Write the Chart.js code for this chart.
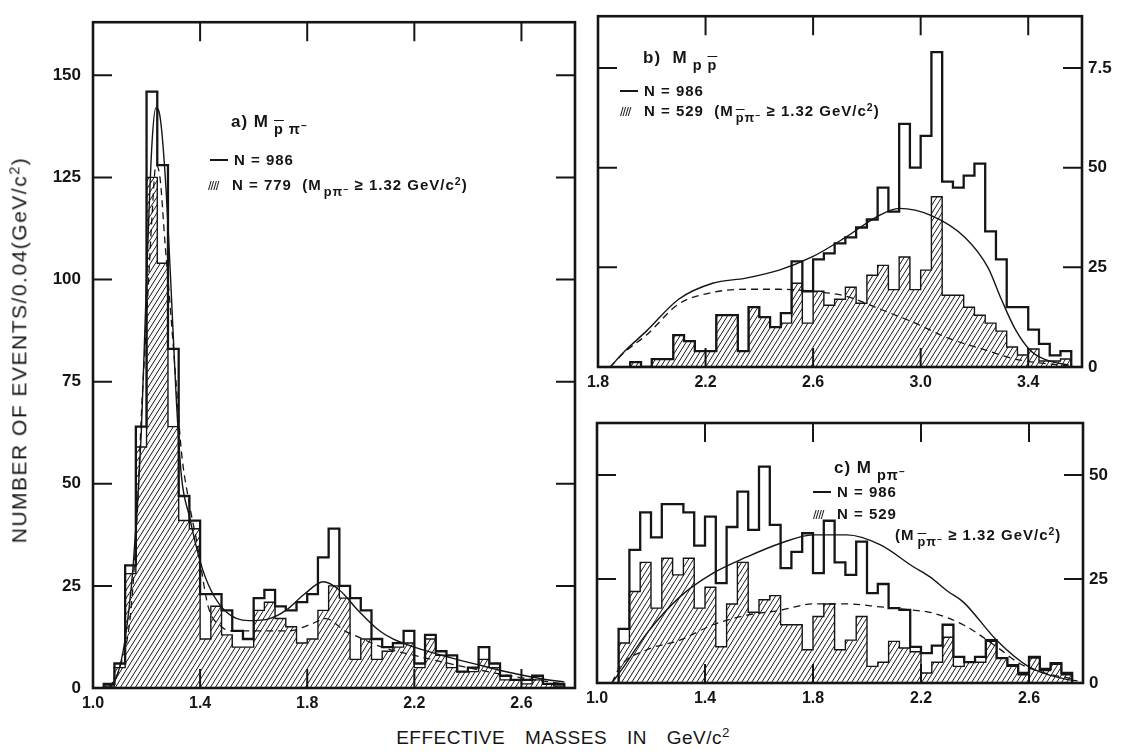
<!DOCTYPE html>
<html>
<head>
<meta charset="utf-8">
<script src="https://cdn.jsdelivr.net/npm/chart.js@4.4.1/dist/chart.umd.min.js"></script>
<style>
  body { margin: 0; background: #fff; width: 1124px; height: 756px; position: relative; overflow: hidden;
         font-family: "Liberation Sans", "DejaVu Sans", sans-serif; color: #151515; }
  canvas { position: absolute; }
  .lg { position: absolute; white-space: nowrap; font-weight: bold; font-size: 15px; letter-spacing: 1px; line-height: 1; }
  .ttl { font-size: 17px; }
  .ov { text-decoration: overline; }
  sub { font-size: 85%; vertical-align: -0.45em; margin-left: 5px; }
  sup { font-size: 70%; vertical-align: 0.5em; }
  .ln { display: inline-block; width: 18px; border-top: 2px solid #151515; vertical-align: 0.3em; margin-right: 6px; }
  .ht { display: inline-block; width: 18px; margin-right: 6px; font-weight: normal; font-size: 13px; letter-spacing: -1px; }
  .axt { position: absolute; white-space: nowrap; }
</style>
</head>
<body>
<canvas id="ca" width="590" height="720" style="left:0;top:0"></canvas>
<canvas id="cb" width="564" height="400" style="left:560px;top:0"></canvas>
<canvas id="cc" width="564" height="315" style="left:560px;top:405px"></canvas>

<div class="lg ttl" style="left:231px;top:113px">a) M<sub><span class="ov">p</span> π<sup>–</sup></sub></div>
<div class="lg" style="left:210px;top:152px"><span class="ln"></span>N = 986</div>
<div class="lg" style="left:208px;top:176px"><span class="ht">////</span>N = 779 &nbsp;(M<sub style="margin-left:2px">pπ<sup>–</sup></sub> ≥ 1.32 GeV/c<sup>2</sup>)</div>

<div class="lg ttl" style="left:643px;top:49px">b) &nbsp;M<sub>p <span class="ov">p</span></sub></div>
<div class="lg" style="left:620px;top:83px"><span class="ln"></span>N = 986</div>
<div class="lg" style="left:620px;top:102px"><span class="ht">////</span>N = 529 &nbsp;(M<sub style="margin-left:2px"><span class="ov">p</span>π<sup>–</sup></sub> ≥ 1.32 GeV/c<sup>2</sup>)</div>

<div class="lg ttl" style="left:834px;top:459px">c) M<sub>pπ<sup>–</sup></sub></div>
<div class="lg" style="left:813px;top:484px"><span class="ln"></span>N = 986</div>
<div class="lg" style="left:813px;top:506px"><span class="ht">////</span>N = 529</div>
<div class="lg" style="left:895px;top:526px">(M<sub style="margin-left:3px"><span class="ov">p</span>π<sup>–</sup></sub> ≥ 1.32 GeV/c<sup>2</sup>)</div>

<div class="axt" style="left:19px;top:350px;font-size:21px;letter-spacing:1.5px;transform:translate(-50%,-50%) rotate(-90deg)">NUMBER OF EVENTS/0.04(GeV/c<sup>2</sup>)</div>
<div class="axt" style="left:563px;top:737px;font-size:19px;word-spacing:14px;letter-spacing:0.5px;transform:translate(-50%,-50%)">EFFECTIVE MASSES IN GeV/c<sup>2</sup></div>

<script>
const INK = '#151515';
const BIN = 0.04;

// a) M(p̄ π-)  — bin contents, first bin starts at aStart
const aStart = 1.04;
const aAll = [1, 6, 30, 64, 146, 128, 83, 47, 41, 23, 23, 19, 14, 12, 22, 24, 20, 19, 21, 23, 32, 39, 25, 22, 19, 12,
  10, 11, 14, 6, 13, 9, 8, 4, 5, 10, 6, 3, 2, 2, 3, 1, 1];
const aCut = [0.5, 5, 28, 59, 125, 104, 64, 41, 39, 12, 20, 13, 10, 10, 19, 21, 17, 15, 11, 12, 19, 25, 22, 7, 12, 7,
  9, 10, 11, 5, 12, 8, 5, 4, 4, 7, 5, 2, 2, 1, 2, 1, 0.5];
const aSolidX = [1.06, 1.09, 1.12, 1.15, 1.18, 1.20, 1.22, 1.235, 1.25, 1.27, 1.29, 1.31, 1.33, 1.36, 1.40, 1.44, 1.50,
  1.58, 1.66, 1.72, 1.79, 1.86, 1.92, 1.99, 2.07, 2.12, 2.20, 2.33, 2.45, 2.57, 2.68, 2.76];
const aSolidY = [0, 3, 12, 30, 62, 100, 133, 142, 140, 125, 100, 72, 52, 42, 31, 24, 18.5,
  16.5, 17, 19, 23, 26, 24, 19, 14, 12, 10, 7.5, 5.5, 3.6, 2.2, 1.5];
const aDashX = [1.06, 1.10, 1.14, 1.165, 1.18, 1.20, 1.22, 1.235, 1.25, 1.27, 1.29, 1.31, 1.33, 1.36, 1.39, 1.43, 1.48,
  1.52, 1.62, 1.73, 1.81, 1.87, 1.94, 1.99, 2.08, 2.20, 2.40, 2.60, 2.76];
const aDashY = [0, 5, 18, 42, 66, 90, 115, 128, 125, 108, 92, 75, 58, 45, 35, 20, 15,
  14, 14, 14, 15.5, 17, 14, 12.5, 10, 8, 5, 2.5, 1];
const aXTicks = [1.0, 1.4, 1.8, 2.2, 2.6];
const aYTicks = [0, 25, 50, 75, 100, 125, 150];

// b) M(p p̄)
const bStart = 1.92;
const bAll = [1.2, 0, 2, 2, 8, 6.5, 4, 4, 13, 13, 4, 15, 12.5, 10, 13.5, 26.5, 19, 27, 28.5, 31,
  32.5, 35, 37, 45, 39, 61, 50, 58, 79, 46.5, 45, 48, 51, 34, 27, 15, 15, 9.4, 5.8, 2.9, 4];
const bCut = [1.2, 0, 2, 2, 8, 6.5, 4, 4, 13, 13, 4, 15, 12.5, 10, 11, 21, 11, 19, 15.5, 17,
  20, 16, 23, 25.5, 19.4, 27.6, 19.4, 24.3, 42.7, 18, 18, 15, 13, 11, 9, 5, 3, 4.5, 1.5, 1.5, 2];
const bSolidX = [1.845, 1.90, 1.98, 2.10, 2.226, 2.35, 2.474, 2.596, 2.72, 2.845, 2.92, 3.04, 3.165, 3.25, 3.30,
  3.35, 3.41, 3.47, 3.55];
const bSolidY = [0, 4, 9, 17, 21, 22.3, 24.3, 27.6, 32.5, 38, 39.8, 38, 32.5, 25, 17, 9.7, 4, 1.7, 0.5];
const bDashX = [1.845, 1.90, 1.98, 2.10, 2.226, 2.35, 2.474, 2.596, 2.72, 2.857, 2.98, 3.10, 3.225, 3.35, 3.47, 3.55];
const bDashY = [0, 3.8, 8, 15.8, 18.7, 19.5, 19.5, 19, 17.8, 14.3, 11, 7.3, 4.6, 2, 0.8, 0.3];
const bXTicks = [1.8, 2.2, 2.6, 3.0, 3.4];
const bYTicks = [0, 25, 50, 75];
const bYLabels = ['0', '25', '50', '7.5'];

// c) M(p π-)
const cStart = 1.08;
const cAll = [13, 32, 41, 35, 43, 43, 41, 33, 40, 24, 37.5, 46, 36.8, 52, 38, 27.6, 31.5, 36, 26.4, 39,
  29, 26, 34, 21.6, 23.8, 18, 17.6, 8.7, 7.2, 9, 14, 6.3, 5, 6.3, 10.3, 6, 4.3, 2.4, 6.3, 3.4, 4.8, 2.4];
const cCut = [9.6, 22, 29, 18, 30, 26, 30, 18, 23, 8.7, 19, 29, 17, 20, 21, 14, 14, 8, 16, 19,
  8, 10.3, 16, 4, 5, 10, 8.4, 7.5, 2.4, 5, 11, 4, 5, 5, 10, 6, 4, 2, 6, 3, 4.5, 2];
const cSolidX = [1.055, 1.10, 1.185, 1.307, 1.43, 1.555, 1.68, 1.80, 1.925, 2.05, 2.17, 2.233, 2.30, 2.356, 2.48,
  2.60, 2.73, 2.78];
const cSolidY = [0, 4, 12, 20.7, 26.4, 30.3, 33.6, 35.6, 35.6, 33.2, 28, 25.5, 22, 19.5, 10.3, 3.9, 1, 0.5];
const cDashX = [1.055, 1.085, 1.185, 1.307, 1.43, 1.555, 1.68, 1.80, 1.925, 2.05, 2.17, 2.233, 2.356, 2.48, 2.57,
  2.66, 2.76];
const cDashY = [0, 3.9, 8, 10.3, 14, 16.3, 17.5, 19, 19, 18.3, 17.5, 17, 14, 8.7, 4.5, 2.4, 1];
const cXTicks = [1.0, 1.4, 1.8, 2.2, 2.6];
const cYTicks = [0, 25, 50];

// diagonal hatch used for the cut sample
function makeHatch() {
  const c = document.createElement('canvas');
  c.width = 5; c.height = 8;
  const g = c.getContext('2d');
  g.strokeStyle = '#1a1a1a';
  g.lineWidth = 1;
  g.beginPath();
  g.moveTo(0, 8); g.lineTo(5, 0);
  g.moveTo(-5, 8); g.lineTo(0, 0);
  g.moveTo(5, 8); g.lineTo(10, 0);
  g.stroke();
  return g.createPattern(c, 'repeat');
}
const hatch = makeHatch();

function steps(start, counts) {
  const pts = [{ x: start, y: 0 }];
  counts.forEach((v, i) => pts.push({ x: +(start + i * BIN).toFixed(2), y: v }));
  pts.push({ x: +(start + counts.length * BIN).toFixed(2), y: 0 });
  return pts;
}
const curve = (xs, ys) => xs.map((x, i) => ({ x, y: ys[i] }));

// box round the plot and the inward tick marks
const frame = {
  id: 'frame',
  afterDatasetsDraw(chart, args, o) {
    const { ctx, chartArea: a, scales: { x, y } } = chart;
    ctx.save();
    ctx.strokeStyle = INK;
    ctx.lineWidth = 2.6;
    ctx.strokeRect(a.left, a.top, a.right - a.left, a.bottom - a.top);
    ctx.lineWidth = 2;
    ctx.beginPath();
    o.xt.forEach(v => {
      const p = x.getPixelForValue(v);
      ctx.moveTo(p, a.bottom); ctx.lineTo(p, a.bottom - o.len);
      if (o.top) { ctx.moveTo(p, a.top); ctx.lineTo(p, a.top + o.len); }
    });
    o.yt.forEach(v => {
      const p = y.getPixelForValue(v);
      ctx.moveTo(a.left, p); ctx.lineTo(a.left + o.len, p);
      ctx.moveTo(a.right, p); ctx.lineTo(a.right - o.len, p);
    });
    ctx.stroke();
    ctx.restore();
  }
};

function makePanel(id, p) {
  return new Chart(document.getElementById(id), {
    type: 'line',
    data: {
      datasets: [
        { data: curve(p.solidX, p.solidY), borderColor: INK, borderWidth: 1.4, pointRadius: 0, cubicInterpolationMode: 'monotone' },
        { data: curve(p.dashX, p.dashY), borderColor: INK, borderWidth: 1.3, borderDash: [7, 5], pointRadius: 0, cubicInterpolationMode: 'monotone' },
        { data: steps(p.start, p.all), borderColor: INK, borderWidth: 2.3, stepped: 'before', pointRadius: 0 },
        { data: steps(p.start, p.cut), borderColor: INK, borderWidth: 1.4, stepped: 'before', pointRadius: 0, fill: 'origin', backgroundColor: hatch }
      ]
    },
    options: {
      responsive: false,
      animation: false,
      events: [],
      layout: { padding: p.pad },
      plugins: {
        legend: { display: false },
        tooltip: { enabled: false },
        frame: { xt: p.xMarks, yt: p.yMarks, len: 19, top: p.topMarks }
      },
      scales: {
        x: {
          type: 'linear', min: p.xMin, max: p.xMax,
          grid: { display: false, drawTicks: false }, border: { display: false },
          afterBuildTicks: s => { s.ticks = p.xTicks.map(value => ({ value })); },
          afterFit: s => { s.height = p.xH; },
          ticks: { padding: 6, color: INK, maxRotation: 0, autoSkip: false,
                   font: { family: 'Liberation Sans', weight: 'bold', size: 16 },
                   callback: v => v.toFixed(1) }
        },
        y: {
          position: p.yPos, min: 0, max: p.yMax,
          grid: { display: false, drawTicks: false }, border: { display: false },
          afterBuildTicks: s => { s.ticks = p.yTicks.map(value => ({ value })); },
          afterFit: s => { s.width = p.yW; },
          ticks: { padding: p.yPad, color: INK, autoSkip: false,
                   font: { family: 'Liberation Sans', weight: 'bold', size: 17 },
                   callback: (v, i) => p.yLabels ? p.yLabels[i] : String(v) }
        }
      }
    },
    plugins: [frame]
  });
}

makePanel('ca', {
  start: aStart, all: aAll, cut: aCut,
  solidX: aSolidX, solidY: aSolidY, dashX: aDashX, dashY: aDashY,
  xMin: 1.0, xMax: 2.8, yMax: 163, xTicks: aXTicks, yTicks: aYTicks,
  xMarks: aXTicks.slice(1), yMarks: aYTicks.slice(1), topMarks: true,
  yPos: 'left', yW: 93, yPad: 12, xH: 32,
  pad: { left: 0, top: 11, right: 15, bottom: 0 }
});

makePanel('cb', {
  start: bStart, all: bAll, cut: bCut,
  solidX: bSolidX, solidY: bSolidY, dashX: bDashX, dashY: bDashY,
  xMin: 1.8, xMax: 3.6, yMax: 88, xTicks: bXTicks, yTicks: bYTicks, yLabels: bYLabels,
  xMarks: bXTicks.slice(1), yMarks: bYTicks.slice(1), topMarks: true,
  yPos: 'right', yW: 42, yPad: 6, xH: 33,
  pad: { left: 38, top: 5, right: 0, bottom: 0 }
});

makePanel('cc', {
  start: cStart, all: cAll, cut: cCut,
  solidX: cSolidX, solidY: cSolidY, dashX: cDashX, dashY: cDashY,
  xMin: 1.0, xMax: 2.8, yMax: 62.5, xTicks: cXTicks, yTicks: cYTicks,
  xMarks: cXTicks.slice(1), yMarks: cYTicks.slice(1), topMarks: true,
  yPos: 'right', yW: 41, yPad: 6, xH: 37,
  pad: { left: 37, top: 18, right: 0, bottom: 0 }
});
</script>
</body>
</html>
